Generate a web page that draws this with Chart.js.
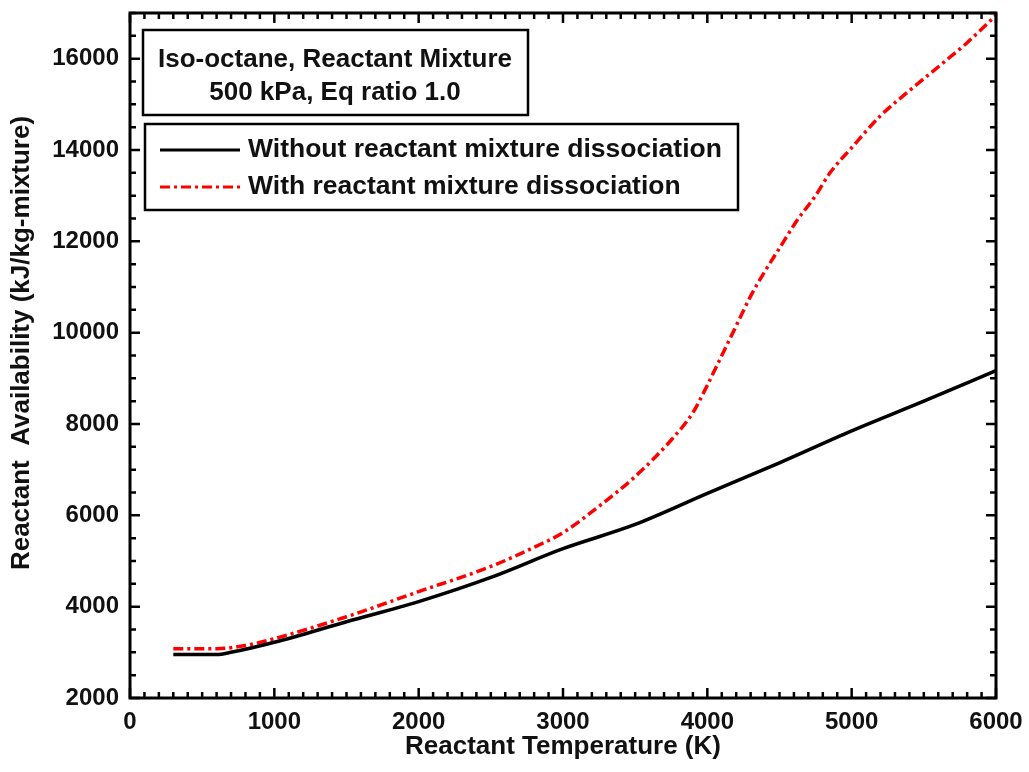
<!DOCTYPE html>
<html>
<head>
<meta charset="utf-8">
<script src="https://cdn.jsdelivr.net/npm/chart.js@4.4.1/dist/chart.umd.min.js"></script>
<style>
  body { margin: 0; background: #fff; }
  canvas { display: block; }
</style>
</head>
<body>
<canvas id="chart" width="1029" height="772"></canvas>
<script>
// data
const tempNoDiss = [300, 600, 700, 1000, 1500, 2000, 2500, 3000, 3500, 4000, 4500, 5000, 5500, 6000];
const availNoDiss = [2950, 2950, 3000, 3220, 3670, 4110, 4640, 5270, 5800, 6480, 7150, 7850, 8500, 9170];

const tempDiss = [300, 600, 800, 1000, 1500, 2000, 2500, 2800, 3000, 3250, 3500, 3750, 3900, 4000, 4100, 4200, 4300, 4400, 4500, 4620, 4750, 4850, 5000, 5200, 5400, 5650, 5800, 6000];
const availDiss = [3080, 3080, 3150, 3300, 3780, 4330, 4880, 5300, 5620, 6200, 6850, 7650, 8250, 8850, 9500, 10150, 10800, 11350, 11850, 12450, 13000, 13500, 14050, 14750, 15300, 15950, 16350, 16950];

const seriesLabels = ['Without reactant mixture dissociation', 'With reactant mixture dissociation'];
const boxLines = ['Iso-octane, Reactant Mixture', '500 kPa, Eq ratio 1.0'];
const yTitle = 'Reactant  Availability (kJ/kg-mixture)';

const xTicks = [0, 1000, 2000, 3000, 4000, 5000, 6000];
const yTicks = [2000, 4000, 6000, 8000, 10000, 12000, 14000, 16000];

const FONT = "'Liberation Sans', Arial, sans-serif";
const TXT = '#111';

// frame with inward ticks on all four sides + text boxes
const framePlugin = {
    id: 'frame',
    afterDraw(chart) {
        const ctx = chart.ctx;
        const a = chart.chartArea;
        const xs = chart.scales.x, ys = chart.scales.y;
        ctx.save();
        ctx.strokeStyle = '#000';
        ctx.lineWidth = 2.5;
        ctx.beginPath();
        for (let v = xs.min; v <= xs.max; v += 100) {
            const px = xs.getPixelForValue(v);
            const len = v % 1000 === 0 ? 10 : 6;
            ctx.moveTo(px, a.bottom); ctx.lineTo(px, a.bottom - len);
            ctx.moveTo(px, a.top); ctx.lineTo(px, a.top + len);
        }
        for (let v = ys.min; v <= ys.max; v += 500) {
            const py = ys.getPixelForValue(v);
            const len = v % 2000 === 0 ? 10 : 6;
            ctx.moveTo(a.left, py); ctx.lineTo(a.left + len, py);
            ctx.moveTo(a.right, py); ctx.lineTo(a.right - len, py);
        }
        ctx.stroke();
        ctx.lineWidth = 3;
        ctx.strokeRect(a.left, a.top, a.right - a.left, a.bottom - a.top);

        // y axis title
        ctx.fillStyle = TXT;
        ctx.font = 'bold 26px ' + FONT;
        ctx.textAlign = 'center';
        ctx.textBaseline = 'middle';
        ctx.save();
        ctx.translate(22, 343);
        ctx.rotate(-Math.PI / 2);
        ctx.fillText(yTitle, 0, 0);
        ctx.restore();

        // condition box
        ctx.lineWidth = 2.5;
        ctx.strokeRect(143, 30, 385, 85);
        ctx.fillText(boxLines[0], 335, 60);
        ctx.fillText(boxLines[1], 335, 93);

        // legend box
        ctx.strokeRect(145, 124, 593, 86);
        ctx.textAlign = 'left';
        ctx.font = 'bold 26.5px ' + FONT;
        chart.data.datasets.forEach((ds, i) => {
            const y = 150 + i * 37;
            ctx.strokeStyle = ds.borderColor;
            ctx.lineWidth = 3;
            ctx.setLineDash(ds.borderDash || []);
            ctx.beginPath();
            ctx.moveTo(160, y); ctx.lineTo(240, y);
            ctx.stroke();
            ctx.setLineDash([]);
            ctx.fillText(ds.label, 248, y);
        });
        ctx.restore();
    }
};

new Chart(document.getElementById('chart'), {
    type: 'line',
    data: {
        datasets: [
            {
                label: seriesLabels[0],
                data: tempNoDiss.map((t, i) => ({ x: t, y: availNoDiss[i] })),
                borderColor: '#000',
                borderWidth: 3.5,
                pointRadius: 0,
                cubicInterpolationMode: 'monotone'
            },
            {
                label: seriesLabels[1],
                data: tempDiss.map((t, i) => ({ x: t, y: availDiss[i] })),
                borderColor: '#ff0000',
                borderWidth: 3.5,
                borderDash: [10, 4, 3, 4],
                pointRadius: 0,
                cubicInterpolationMode: 'monotone'
            }
        ]
    },
    options: {
        responsive: false,
        animation: false,
        layout: { padding: { top: 13, right: 33, left: 0, bottom: 0 } },
        plugins: { legend: { display: false }, tooltip: { enabled: false } },
        scales: {
            x: {
                type: 'linear',
                min: 0, max: 6000,
                afterBuildTicks: s => { s.ticks = xTicks.map(v => ({ value: v })); },
                afterFit: s => { s.height = 74; s.paddingLeft = 0; s.paddingRight = 0; },
                grid: { display: false, drawTicks: false },
                border: { display: false },
                ticks: { color: TXT, font: { family: FONT, size: 24, weight: 'bold' }, padding: 10, callback: v => String(v), maxRotation: 0 },
                title: { display: true, text: 'Reactant Temperature (K)', color: TXT, font: { family: FONT, size: 26, weight: 'bold' }, padding: { top: 0, bottom: 10 } }
            },
            y: {
                type: 'linear',
                min: 2000, max: 17000,
                afterBuildTicks: s => { s.ticks = yTicks.map(v => ({ value: v })); },
                afterFit: s => { s.width = 130; s.paddingTop = 0; s.paddingBottom = 0; },
                grid: { display: false, drawTicks: false },
                border: { display: false },
                ticks: { color: TXT, font: { family: FONT, size: 24, weight: 'bold' }, padding: 11, callback: v => String(v) },
                title: { display: false }
            }
        }
    },
    plugins: [framePlugin]
});
</script>
</body>
</html>
